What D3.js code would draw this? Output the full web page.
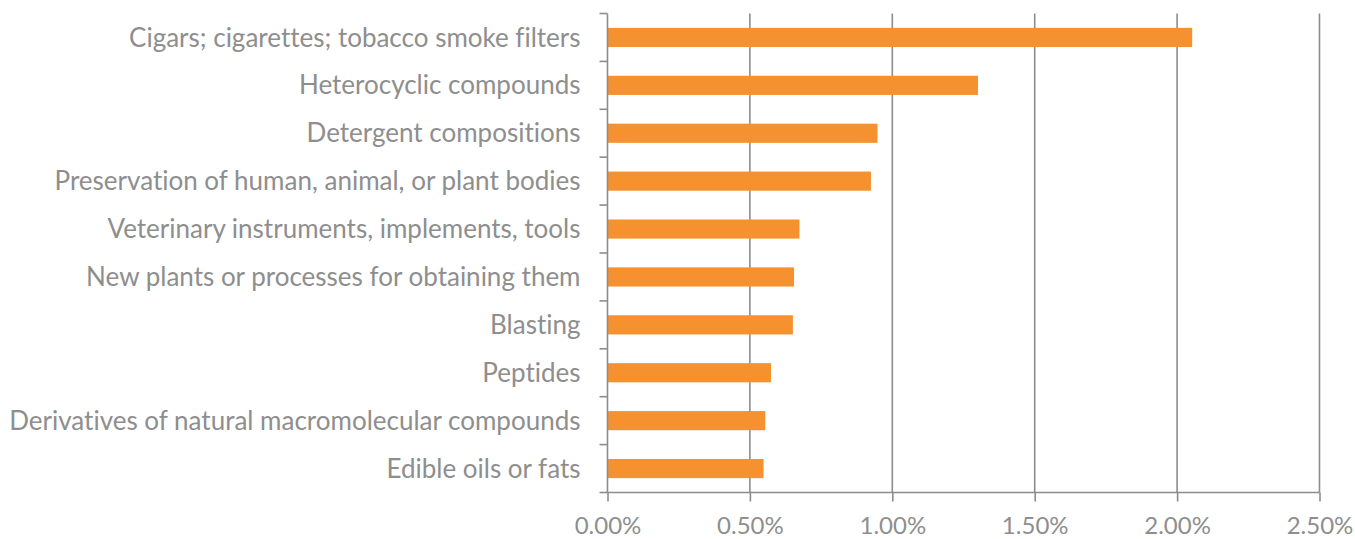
<!DOCTYPE html>
<html>
<head>
<meta charset="utf-8">
<script src="https://cdn.jsdelivr.net/npm/d3@7"></script>
<style>
  html, body { margin: 0; padding: 0; background: #ffffff; }
  svg { display: block; }
  text { font-family: Lato, "Open Sans", sans-serif; fill: #8e8e8e; font-variant-ligatures: none; }
</style>
</head>
<body>
<svg id="chart" width="1355" height="539"></svg>
<script>
// Share of patents by technology field (%)
const categories = [
  "Cigars; cigarettes; tobacco smoke filters",
  "Heterocyclic compounds",
  "Detergent compositions",
  "Preservation of human, animal, or plant bodies",
  "Veterinary instruments, implements, tools",
  "New plants or processes for obtaining them",
  "Blasting",
  "Peptides ",
  "Derivatives of natural macromolecular compounds",
  "Edible oils or fats"
];
const shares = [2.053, 1.301, 0.948, 0.925, 0.674, 0.655, 0.651, 0.574, 0.554, 0.548];
const xTicks = [0, 0.5, 1.0, 1.5, 2.0, 2.5];

const svg = d3.select("#chart");
const margin = { top: 13.5, right: 35.5, bottom: 46.5, left: 607.5 };
const W = 1355, H = 539;
const innerW = W - margin.left - margin.right;
const innerH = H - margin.top - margin.bottom;

const x = d3.scaleLinear().domain([0, 2.5]).range([0, innerW]);
const y = d3.scaleBand().domain(categories).range([0, innerH]).paddingInner(0.6).paddingOuter(0.3);

const g = svg.append("g").attr("transform", `translate(${margin.left},${margin.top})`);
const axisColor = "#8c8c8c";

// vertical gridlines
g.selectAll("line.grid").data(xTicks.slice(1)).join("line")
  .attr("class", "grid")
  .attr("x1", d => x(d)).attr("x2", d => x(d))
  .attr("y1", 0).attr("y2", innerH)
  .attr("stroke", axisColor).attr("stroke-width", 1.6);

// bars
g.selectAll("rect.bar").data(categories).join("rect")
  .attr("class", "bar")
  .attr("x", 0)
  .attr("y", d => y(d))
  .attr("width", (d, i) => x(shares[i]))
  .attr("height", y.bandwidth())
  .attr("fill", "#f5922f");

// category axis: ticks between categories
const boundaries = d3.range(categories.length + 1).map(i => i * innerH / categories.length);
g.append("line")
  .attr("x1", 0).attr("x2", 0).attr("y1", 0).attr("y2", innerH)
  .attr("stroke", axisColor).attr("stroke-width", 1.6);
g.selectAll("line.ytick").data(boundaries).join("line")
  .attr("class", "ytick")
  .attr("x1", -8).attr("x2", 0)
  .attr("y1", d => d).attr("y2", d => d)
  .attr("stroke", axisColor).attr("stroke-width", 1.6);

g.selectAll("text.ylab").data(categories).join("text")
  .attr("class", "ylab")
  .attr("x", -27)
  .attr("y", d => y(d) + y.bandwidth() / 2)
  .attr("dy", "0.35em")
  .attr("text-anchor", "end")
  .style("font-size", "26px")
  .text(d => d);

// value axis
const xAxis = d3.axisBottom(x)
  .tickValues(xTicks)
  .tickSize(9)
  .tickPadding(15)
  .tickFormat(d => d.toFixed(2) + "%");
const xa = g.append("g").attr("transform", `translate(0,${innerH})`).call(xAxis);
xa.select(".domain").attr("stroke", axisColor).attr("stroke-width", 1.6).attr("d", `M0,0H${innerW}`);
xa.selectAll(".tick line").attr("stroke", axisColor).attr("stroke-width", 1.6);
xa.selectAll(".tick text").style("font-size", "24px").attr("fill", "#8e8e8e");
</script>
</body>
</html>
